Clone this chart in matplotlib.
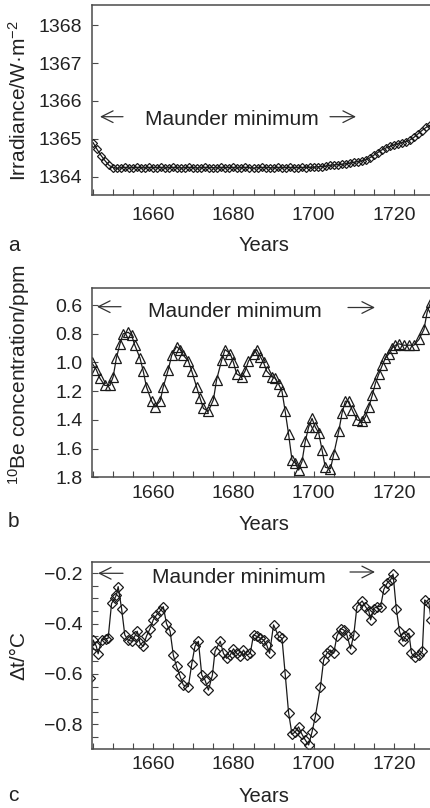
import matplotlib
matplotlib.use('Agg')
import matplotlib.pyplot as plt
from matplotlib.patches import FancyArrowPatch
from matplotlib.ticker import MultipleLocator, FormatStrFormatter, FuncFormatter

plt.rcParams['font.family'] = ['Liberation Sans', 'DejaVu Sans']
plt.rcParams['mathtext.fontset'] = 'custom'
plt.rcParams['mathtext.rm'] = 'Liberation Sans'
plt.rcParams['mathtext.it'] = 'Liberation Sans:italic'
plt.rcParams['mathtext.default'] = 'regular'
plt.rcParams['axes.unicode_minus'] = True

# ---------------- data ----------------
# (a) total solar irradiance, W m^-2
years_a = list(range(1645, 1730))
irr_a = [1364.90, 1364.72, 1364.56, 1364.42, 1364.30, 1364.24, 1364.22,
         1364.24, 1364.25, 1364.23, 1364.24, 1364.25, 1364.24, 1364.23, 1364.25,
         1364.24, 1364.24, 1364.25, 1364.23, 1364.24, 1364.25, 1364.24, 1364.23,
         1364.24, 1364.25, 1364.24, 1364.23, 1364.24, 1364.25, 1364.24, 1364.24,
         1364.23, 1364.25, 1364.24, 1364.24, 1364.25, 1364.23, 1364.24, 1364.25,
         1364.24, 1364.23, 1364.24, 1364.25, 1364.24, 1364.24, 1364.23, 1364.25,
         1364.24, 1364.24, 1364.25, 1364.24, 1364.24, 1364.25, 1364.24, 1364.25,
         1364.25,
         1364.26, 1364.27, 1364.28, 1364.30, 1364.31, 1364.32, 1364.33, 1364.34,
         1364.36, 1364.38, 1364.40, 1364.42, 1364.45, 1364.50, 1364.57, 1364.64,
         1364.71, 1364.76, 1364.80, 1364.84, 1364.87, 1364.90, 1364.93, 1364.97,
         1365.04, 1365.13, 1365.22, 1365.30, 1365.36]

# (b) 10Be concentration, ppm
years_b = [1644.6, 1645.8, 1646.7, 1647.9, 1649.2, 1650.0, 1650.8, 1651.7, 1652.5,
           1653.75, 1654.6, 1655.4, 1656.7, 1657.5, 1658.3, 1659.6, 1660.4, 1661.7,
           1662.5, 1663.75, 1664.6, 1665.8, 1666.7, 1667.5, 1668.75, 1669.6, 1670.8,
           1671.7, 1672.5, 1673.75, 1675.0, 1675.8, 1677.1, 1677.9, 1679.2, 1680.0,
           1680.8, 1682.1, 1682.9, 1683.75, 1685.0, 1685.8, 1686.7, 1687.5, 1688.3,
           1689.6, 1690.4, 1691.25, 1692.1, 1692.9, 1693.75, 1694.6, 1695.4, 1696.25,
           1697.1, 1697.9, 1698.75, 1699.6, 1700.4, 1701.25, 1702.1, 1702.9, 1704.2,
           1705.0, 1706.25, 1707.1, 1707.9, 1708.75, 1709.6, 1710.8, 1712.1, 1712.9,
           1713.75, 1714.6, 1715.4, 1716.25, 1717.1, 1717.9, 1718.75, 1719.6, 1720.4,
           1721.25, 1722.5, 1723.75, 1725.0, 1726.25, 1727.5, 1728.3, 1729.2]
be_b = [1.00, 1.05, 1.11, 1.16, 1.16, 1.10, 0.97, 0.87, 0.80,
        0.79, 0.81, 0.88, 0.97, 1.06, 1.17, 1.27, 1.31, 1.27,
        1.17, 1.05, 0.95, 0.89, 0.91, 0.95, 0.99, 1.06, 1.17,
        1.25, 1.32, 1.34, 1.26, 1.12, 0.98, 0.91, 0.94, 1.00,
        1.08, 1.10, 1.06, 0.99, 0.94, 0.91, 0.96, 1.00, 1.06,
        1.10, 1.11, 1.15, 1.20, 1.34, 1.50, 1.68, 1.70, 1.75,
        1.69, 1.55, 1.45, 1.39, 1.45, 1.49, 1.61, 1.73, 1.74,
        1.64, 1.48, 1.35, 1.27, 1.27, 1.33, 1.40, 1.41, 1.38,
        1.31, 1.23, 1.145, 1.08, 1.02, 0.97, 0.94, 0.90, 0.88,
        0.87, 0.88, 0.88, 0.88, 0.84, 0.77, 0.65, 0.58]

# (c) temperature anomaly, deg C
years_c = [1644.3, 1645.0, 1645.8, 1646.25, 1647.1, 1648.2, 1648.75, 1649.6, 1650.4,
           1650.8, 1651.25, 1652.1, 1652.9, 1653.75, 1654.6, 1655.4, 1656.0, 1656.7,
           1657.5, 1658.3, 1659.2, 1660.0, 1660.8, 1661.7, 1662.5, 1663.3, 1664.2,
           1665.0, 1665.8, 1666.7, 1667.5, 1668.75, 1669.6, 1670.4, 1671.25, 1672.1,
           1672.9, 1673.75, 1674.75, 1675.4, 1676.7, 1677.5, 1678.3, 1679.2, 1680.0,
           1680.8, 1681.7, 1682.5, 1683.3, 1684.2, 1685.0, 1685.8, 1686.7, 1687.5,
           1688.3, 1689.0, 1690.0, 1691.25, 1692.1, 1692.9, 1693.75, 1694.6, 1695.4,
           1696.25, 1697.1, 1697.9, 1698.75, 1699.6, 1700.4, 1701.7, 1702.5, 1703.3,
           1704.2, 1705.0, 1705.8, 1706.7, 1707.5, 1708.3, 1709.2, 1710.0, 1710.8,
           1712.1, 1712.9, 1713.75, 1714.2, 1715.0, 1715.8, 1716.7, 1717.5, 1718.3,
           1719.2, 1719.8, 1720.6, 1721.4, 1722.25, 1722.9, 1723.75, 1724.4, 1725.25,
           1726.25, 1727.1, 1727.7, 1728.75, 1729.3]
dt_c = [-0.617, -0.465, -0.49, -0.52, -0.465, -0.46, -0.458, -0.32, -0.30,
        -0.286, -0.253, -0.34, -0.445, -0.465, -0.47, -0.45, -0.43, -0.478,
        -0.49, -0.45, -0.42, -0.385, -0.366, -0.35, -0.332, -0.40, -0.43,
        -0.525, -0.57, -0.61, -0.644, -0.65, -0.56, -0.49, -0.47, -0.604,
        -0.624, -0.664, -0.604, -0.51, -0.47, -0.518, -0.538, -0.525, -0.50,
        -0.518, -0.53, -0.505, -0.525, -0.518, -0.445, -0.45, -0.458, -0.465,
        -0.485, -0.518, -0.405, -0.45, -0.458, -0.60, -0.754, -0.84, -0.83,
        -0.81, -0.84, -0.862, -0.882, -0.83, -0.77, -0.65, -0.544, -0.518,
        -0.505, -0.518, -0.45, -0.42, -0.425, -0.445, -0.50, -0.445, -0.332,
        -0.31, -0.332, -0.35, -0.385, -0.34, -0.332, -0.332, -0.264, -0.24,
        -0.226, -0.203, -0.34, -0.43, -0.47, -0.45, -0.438, -0.518, -0.534,
        -0.525, -0.51, -0.306, -0.32, -0.385]

xtick_years = [1660, 1680, 1700, 1720]
ylabels = ["Irradiance/W\u00b7m$^{-2}$", "$^{10}$Be concentration/ppm", "\u0394t/\u00b0C"]
panel_letters = ["a", "b", "c"]
annot_text = "Maunder minimum"
xlabel_text = "Years"

# ---------------- layout (pixels) ----------------
W, H = 430, 808
fig = plt.figure(figsize=(W / 100, H / 100), dpi=100)
TXT = '#222222'
SPINE = '#4a4a4a'
LEFT_PX, RIGHT_PX = 91.5, 445
PX_PER_YR = 4.01
X0 = 1644.6
X1 = X0 + (RIGHT_PX - LEFT_PX) / PX_PER_YR


def add_ax(top, bottom):
    return fig.add_axes([LEFT_PX / W, 1 - bottom / H,
                         (RIGHT_PX - LEFT_PX) / W, (bottom - top) / H])


def fp(x, y):  # figure fraction from pixels measured from top-left
    return (x / W, 1 - y / H)


def style(ax, xpad, ypad):
    for s in ax.spines.values():
        s.set_color(SPINE)
        s.set_linewidth(1.1)
    ax.set_xticks(xtick_years)
    ax.xaxis.set_minor_locator(MultipleLocator(5))
    ax.set_xlim(X0, X1)
    ax.tick_params(axis='both', which='both', direction='in', colors=SPINE,
                   labelcolor=TXT, labelsize=14, width=0.8, length=4)
    ax.tick_params(axis='x', which='major', pad=xpad)
    ax.tick_params(axis='y', which='major', pad=ypad)


line_kw = dict(color='#1a1a1a', lw=0.9, mfc='none', mec='#1a1a1a', mew=0.9)

# ---- panel a ----
axa = add_ax(5, 195)
axa.plot(years_a, irr_a, marker='D', ms=4.3, **line_kw)
axa.set_yticks([1364, 1365, 1366, 1367, 1368])
axa.set_ylim(1363.52, 1368.53)
axa.yaxis.set_major_formatter(FormatStrFormatter('%d'))
style(axa, 8.6, 7)

# ---- panel b ----
axb = add_ax(288.3, 477.3)
axb.plot(years_b, be_b, marker='^', ms=6.5, **line_kw)
axb.set_yticks([0.6, 0.8, 1.0, 1.2, 1.4, 1.6, 1.8])
axb.set_ylim(1.8, 0.4835)
axb.yaxis.set_major_formatter(FormatStrFormatter('%.1f'))
style(axb, 5.8, 6.5)

# ---- panel c ----
axc = add_ax(561.7, 749)
axc.plot(years_c, dt_c, marker='D', ms=5, **line_kw)
axc.set_yticks([-0.8, -0.6, -0.4, -0.2])
axc.set_ylim(-0.898, -0.154)
axc.yaxis.set_major_formatter(
    FuncFormatter(lambda v, p: ('%.1f' % v).replace('-', '\u2212')))
axc.yaxis.set_minor_locator(MultipleLocator(0.05))
style(axc, 5, 6.5)

# ---- text & annotations ----
ylabel_y = [101, 375, 656]
letter_base = [251, 527, 801]
years_base = [251, 530, 802]
for i in range(3):
    fig.text(*fp(19, ylabel_y[i]), ylabels[i], rotation=90, ha='center',
             va='center', fontsize=15, color=TXT)
    fig.text(*fp(8, letter_base[i]), panel_letters[i], ha='left',
             va='baseline', fontsize=15, color=TXT)
    fig.text(*fp(264, years_base[i]), xlabel_text, ha='center',
             va='baseline', fontsize=14.5, color=TXT)

mm = [  # text_x, text_baseline, left arrow (x0, x1, y), right arrow (x0, x1, y)
    (145, 125, (100, 123, 116.7), (330, 356, 116.7)),
    (148, 316.7, (97, 121, 306.7), (348, 375, 307.5)),
    (152, 583.3, (98, 123, 573.3), (350, 375, 572)),
]
arrow_kw = dict(arrowstyle='->,head_length=0.7,head_width=0.35', color='#333333',
                lw=0.9, shrinkA=0, shrinkB=0, mutation_scale=12)
for tx, tb, la, ra in mm:
    fig.text(*fp(tx, tb), annot_text, ha='left', va='baseline', fontsize=15,
             color=TXT)
    fig.add_artist(FancyArrowPatch(fp(la[1], la[2]), fp(la[0], la[2]),
                                   transform=fig.transFigure, **arrow_kw))
    fig.add_artist(FancyArrowPatch(fp(ra[0], ra[2]), fp(ra[1], ra[2]),
                                   transform=fig.transFigure, **arrow_kw))

fig.savefig('out.png', dpi=100, facecolor='white')
